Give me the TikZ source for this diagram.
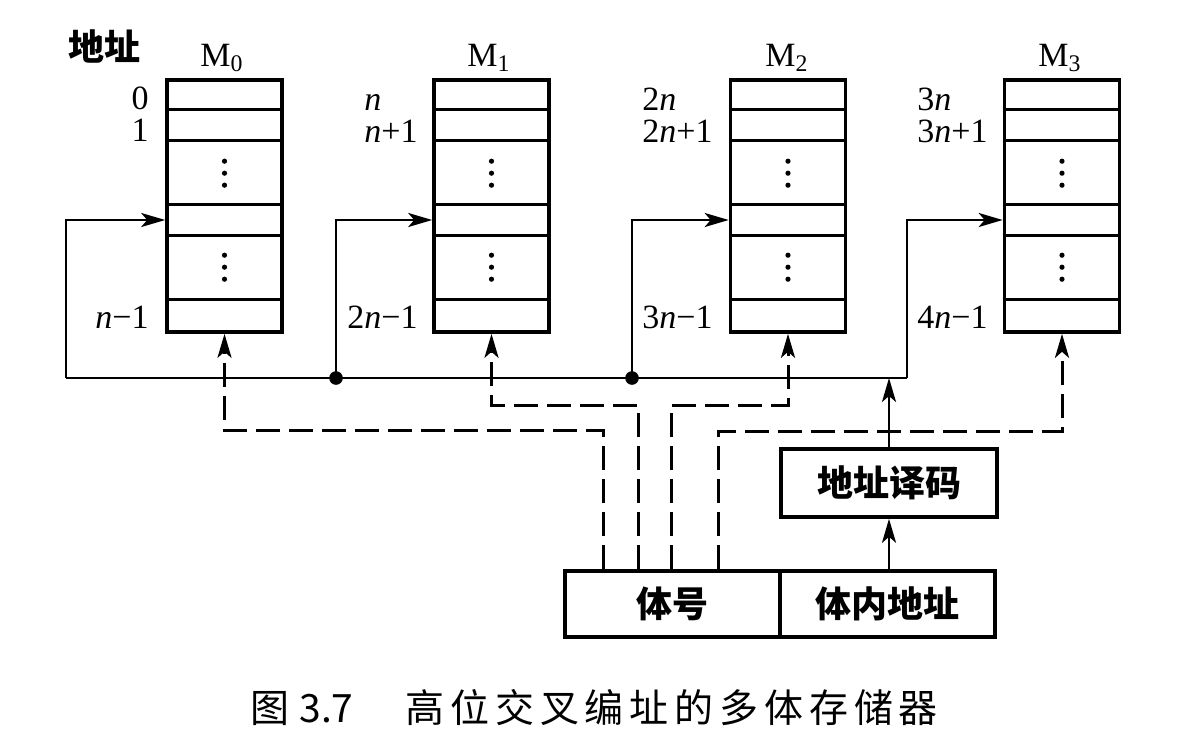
\documentclass[tikz,border=0pt]{standalone}
\usepackage{fontspec}
\setmainfont{Liberation Serif}
\newfontfamily\cjk{Noto Sans CJK SC}
\usetikzlibrary{arrows.meta,calc}
\begin{document}
\begin{tikzpicture}[x=0.5pt,y=-0.5pt,
  lat/.style={font=\fontsize{17}{20}\selectfont, inner sep=0pt},
  mem/.style={draw, line width=1.8pt, minimum width=57.5pt, minimum height=126pt, inner sep=0pt},
  rowline/.style={line width=1.6pt},
  wire/.style={line width=1.3pt},
  dsh/.style={line width=1.5pt, dash pattern=on 12pt off 4.5pt},
  cbox/.style={draw, line width=1.8pt, inner sep=0pt, font=\cjk\bfseries\fontsize{18}{20}\selectfont},
  >={Stealth[length=12pt,width=7pt,inset=3pt]}]
\useasboundingbox[fill=white] (0,0) rectangle (1182,744);

% memory banks
\node[mem] (m0) at (224.5,206) {};
\node[mem] (m1) at (491.5,206) {};
\node[mem] (m2) at (788,206) {};
\node[mem] (m3) at (1062,206) {};
\foreach \m in {m0,m1,m2,m3}{
  \foreach \d in {31,62,126,157,221}{
    \draw[rowline] ($(\m.north west)+(0,\d)$) -- ($(\m.north east)+(0,\d)$);
  }
  \foreach \d in {83,95,107,177,189,201}{
    \fill ($(\m.north)+(0,\d)$) circle[radius=1.3pt];
  }
}

% titles
\node[font=\cjk\bfseries\fontsize{18}{20}\selectfont, inner sep=0pt] (dz) at (104,46) {地址};
\node[lat,anchor=base] (t0) at (222,66) {M\textsubscript{0}};
\node[lat,anchor=base] (t1) at (489,66) {M\textsubscript{1}};
\node[lat,anchor=base] (t2) at (787,66) {M\textsubscript{2}};
\node[lat,anchor=base] (t3) at (1060,66) {M\textsubscript{3}};

% address labels
\node[lat,anchor=base east] (a00) at (149,109) {0};
\node[lat,anchor=base east] (a01) at (149,141) {1};
\node[lat,anchor=base east] (a02) at (149,328) {\textit{n}−1};

\node[lat,anchor=base east] (a11) at (418,142) {\textit{n}+1};
\node[lat,anchor=base west] (a10) at ($(a11.base west)+(0,-32)$) {\textit{n}};
\node[lat,anchor=base east] (a12) at (418,328) {2\textit{n}−1};

\node[lat,anchor=base east] (a21) at (713,142) {2\textit{n}+1};
\node[lat,anchor=base west] (a20) at ($(a21.base west)+(0,-32)$) {2\textit{n}};
\node[lat,anchor=base east] (a22) at (713,328) {3\textit{n}−1};

\node[lat,anchor=base east] (a31) at (988,142) {3\textit{n}+1};
\node[lat,anchor=base west] (a30) at ($(a31.base west)+(0,-32)$) {3\textit{n}};
\node[lat,anchor=base east] (a32) at (988,328) {4\textit{n}−1};

% address register and decoder
\node[cbox, minimum width=107.5pt, minimum height=33pt] (tihao) at (672.5,604) {体号};
\node[cbox, minimum width=107.5pt, minimum height=33pt] (tinei) at (887.5,604) {体内地址};
\node[cbox, minimum width=108pt, minimum height=34pt] (dec) at (889,483) {地址译码};

% bus
\coordinate (bl) at (66,378);
\coordinate (j1) at (336,378);
\coordinate (j2) at (632,378);
\coordinate (br) at (907,378);
\coordinate (rowA) at (0,220);
\draw[wire] (bl) -- (br);
\draw[wire,->] (bl) |- (m0.west |- rowA);
\draw[wire,->] (j1) |- (m1.west |- rowA);
\draw[wire,->] (j2) |- (m2.west |- rowA);
\draw[wire,->] (br) |- (m3.west |- rowA);
\fill (j1) circle[radius=3.4pt];
\fill (j2) circle[radius=3.4pt];

\draw[wire,->] (tinei.north -| dec.south) -- (dec.south);
\draw[wire,->] (dec.north) -- (dec.north |- bl);

% bank select (dashed)
\draw[dsh,->] ($(tihao.north west)+(40,0)$) -- ++(0,-139) -| (m0.south);
\draw[dsh,->] ($(tihao.north west)+(75,0)$) -- ++(0,-164) -| (m1.south);
\draw[dsh,->] ($(tihao.north west)+(108,0)$) -- ++(0,-164) -| (m2.south);
\draw[dsh,->] ($(tihao.north west)+(155,0)$) -- ++(0,-138) -| (m3.south);

% caption
\node[font=\cjk\fontsize{19.5}{22}\selectfont, anchor=west, inner sep=0pt] (cap) at (250,708)
  {图\hspace{5pt}3.7\hspace{26pt}{\addfontfeature{LetterSpace=15}高位交叉编址的多体存储器}};
\end{tikzpicture}
\end{document}
